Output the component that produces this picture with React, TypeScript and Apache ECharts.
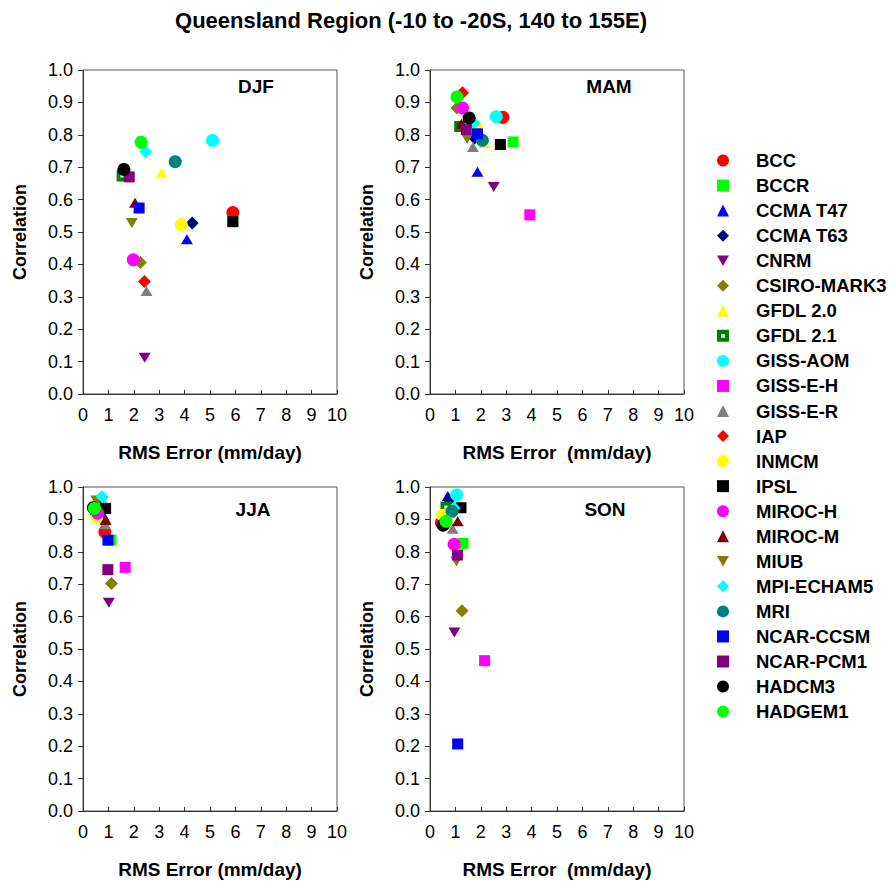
import React, { useEffect, useRef } from "react";
import * as echarts from "echarts";

const FONT = '"Liberation Sans", Arial, sans-serif';

const models = [
  "BCC", "BCCR", "CCMA T47", "CCMA T63", "CNRM", "CSIRO-MARK3", "GFDL 2.0", "GFDL 2.1",
  "GISS-AOM", "GISS-E-H", "GISS-E-R", "IAP", "INMCM", "IPSL", "MIROC-H", "MIROC-M",
  "MIUB", "MPI-ECHAM5", "MRI", "NCAR-CCSM", "NCAR-PCM1", "HADCM3", "HADGEM1",
];

const colors = [
  "#ff0000", "#00ff00", "#0000ff", "#000080", "#800080", "#808000", "#ffff00", "#008000",
  "#00ffff", "#ff00ff", "#808080", "#ff0000", "#ffff00", "#000000", "#ff00ff", "#800000",
  "#808000", "#00ffff", "#008080", "#0000ff", "#800080", "#000000", "#00ff00",
];

// c = circle, s = square, t = triangle up, v = triangle down, d = diamond, h = square with hole
const shapes = [
  "c", "s", "t", "d", "v", "d", "t", "h",
  "c", "s", "t", "d", "c", "s", "c", "t",
  "v", "d", "c", "s", "s", "c", "c",
];

const seasonNames = ["DJF", "MAM", "JJA", "SON"];

// RMS error (mm/day) and correlation, in model order
const djfRms = [5.9, 5.9, 4.09, 4.3, 2.43, 2.26, 3.1, 1.54, 5.1, 11.5, 2.5, 2.42, 3.87, 5.9, 1.98, 2.05, 1.92, 2.47, 3.63, 2.21, 1.82, 1.61, 2.29];
const djfCorr = [0.56, 0.532, 0.478, 0.528, 0.112, 0.406, 0.683, 0.673, 0.783, 0.6, 0.318, 0.347, 0.523, 0.532, 0.414, 0.59, 0.528, 0.748, 0.717, 0.574, 0.67, 0.693, 0.777];

const mamRms = [2.87, 3.27, 1.87, 1.76, 2.51, 1.06, 2.15, 1.17, 2.61, 3.93, 1.69, 1.28, 1.83, 2.77, 1.28, 1.24, 1.46, 1.73, 2.06, 1.87, 1.43, 1.54, 1.06];
const mamCorr = [0.854, 0.778, 0.686, 0.79, 0.639, 0.883, 0.775, 0.826, 0.856, 0.553, 0.762, 0.93, 0.822, 0.77, 0.883, 0.834, 0.788, 0.837, 0.783, 0.803, 0.816, 0.852, 0.917];

const jjaRms = [0.86, 1.1, 0.85, 0.8, 1.02, 1.12, 0.62, 0.5, 0.7, 1.66, 0.86, 0.7, 0.54, 0.89, 0.58, 0.89, 0.52, 0.76, 0.45, 0.98, 0.98, 0.41, 0.45];
const jjaCorr = [0.861, 0.836, 0.905, 0.93, 0.643, 0.702, 0.94, 0.93, 0.945, 0.752, 0.885, 0.966, 0.906, 0.934, 0.919, 0.898, 0.958, 0.97, 0.932, 0.836, 0.745, 0.936, 0.934];

const sonRms = [0.45, 1.3, 0.7, 0.75, 0.96, 1.26, 0.55, 0.63, 1.05, 2.15, 0.89, 0.48, 0.5, 1.22, 0.95, 1.09, 1.04, 0.95, 0.87, 1.09, 1.08, 0.52, 0.63];
const sonCorr = [0.89, 0.826, 0.972, 0.96, 0.551, 0.618, 0.91, 0.938, 0.976, 0.464, 0.871, 0.89, 0.913, 0.936, 0.823, 0.894, 0.77, 0.935, 0.925, 0.207, 0.79, 0.882, 0.894];

const xAxisTitles = ["RMS Error (mm/day)", "RMS Error  (mm/day)", "RMS Error (mm/day)", "RMS Error  (mm/day)"];

const symbolFor = (s: string) => {
  switch (s) {
    case "c": return "circle";
    case "s": return "rect";
    case "t": return "triangle";
    case "v": return "path://M0,0L10,0L5,8.66Z";
    case "d": return "diamond";
    default: return "path://M0,0L10,0L10,10L0,10Z M3.5,3.5L3.5,6.5L6.5,6.5L6.5,3.5Z";
  }
};
const sizeFor = (s: string): any => {
  switch (s) {
    case "c": return 13;
    case "s": return 11;
    case "h": return 11;
    case "t": return [12, 10];
    case "v": return [12, 10];
    default: return 13;
  }
};

export default function App() {
  const ref = useRef<HTMLDivElement>(null);
  useEffect(() => {
    if (!ref.current) return;
    const chart = echarts.init(ref.current, undefined, { renderer: "svg" });
    const seasons = [
      [djfRms, djfCorr],
      [mamRms, mamCorr],
      [jjaRms, jjaCorr],
      [sonRms, sonCorr],
    ];
    const gridPos = [
      { left: 83, top: 70 },
      { left: 430, top: 70 },
      { left: 83, top: 487 },
      { left: 430, top: 487 },
    ];
    const grid = gridPos.map((p) => ({
      left: p.left, top: p.top, width: 254, height: 324,
      show: true, borderColor: "#555", borderWidth: 1, backgroundColor: "#fff",
    }));
    const xAxis = gridPos.map((_, g) => ({
      type: "value", gridIndex: g, min: 0, max: 10, interval: 1,
      axisLine: { show: true, onZero: false, lineStyle: { color: "#333", width: 1 } },
      axisTick: { show: true, inside: true, length: 4, lineStyle: { color: "#333" } },
      axisLabel: { fontSize: 18, color: "#000", margin: 12, fontFamily: FONT },
      splitLine: { show: false },
      name: xAxisTitles[g], nameLocation: "middle", nameGap: 49,
      nameTextStyle: { fontSize: 19, fontWeight: "bold", color: "#000", fontFamily: FONT },
    }));
    const yAxis = gridPos.map((_, g) => ({
      type: "value", gridIndex: g, min: 0, max: 1, interval: 0.1,
      axisLine: { show: true, onZero: false, lineStyle: { color: "#333", width: 1 } },
      axisTick: { show: true, inside: false, length: 5, lineStyle: { color: "#333" } },
      axisLabel: { fontSize: 18, color: "#000", margin: 10, fontFamily: FONT, formatter: (v: number) => v.toFixed(1) },
      splitLine: { show: false },
      name: "Correlation", nameLocation: "middle", nameGap: 54, nameRotate: 90,
      nameTextStyle: { fontSize: 18, fontWeight: "bold", color: "#000", fontFamily: FONT },
    }));
    const series: any[] = [];
    models.forEach((m, i) => {
      seasons.forEach(([rms, corr], g) => {
        series.push({
          type: "scatter", name: m, xAxisIndex: g, yAxisIndex: g,
          data: [[rms[i], corr[i]]],
          symbol: symbolFor(shapes[i]), symbolSize: sizeFor(shapes[i]),
          itemStyle: { color: colors[i], opacity: 1 },
          clip: true,
        });
      });
    });
    const seasonLabelPos = [
      [256, 86], [609, 86], [253, 509], [605, 509],
    ];
    chart.setOption({
      animation: false,
      backgroundColor: "#fff",
      grid, xAxis, yAxis, series,
      legend: {
        orient: "vertical", left: 717, top: 151, padding: 0,
        itemWidth: 12, itemHeight: 12, itemGap: 6.05,
        selectedMode: false,
        data: models,
        textStyle: { fontSize: 18.5, fontWeight: "bold", color: "#000", fontFamily: FONT, lineHeight: 18, padding: [0, 0, 0, 22] },
      },
      graphic: [
        {
          type: "text", x: 411, y: 20,
          style: { text: "Queensland Region (-10 to -20S, 140 to 155E)", fontSize: 22, fontWeight: "bold", fill: "#000", fontFamily: FONT, align: "center", verticalAlign: "middle" },
        },
        ...seasonNames.map((s, g) => ({
          type: "text", x: seasonLabelPos[g][0], y: seasonLabelPos[g][1], z: 10,
          style: { text: s, fontSize: 19, fontWeight: "bold", fill: "#000", fontFamily: FONT, align: "center", verticalAlign: "middle" },
        })),
      ],
    });
    return () => chart.dispose();
  }, []);
  return <div ref={ref} style={{ position: "fixed", left: 0, top: 0, width: 896, height: 881 }} />;
}
